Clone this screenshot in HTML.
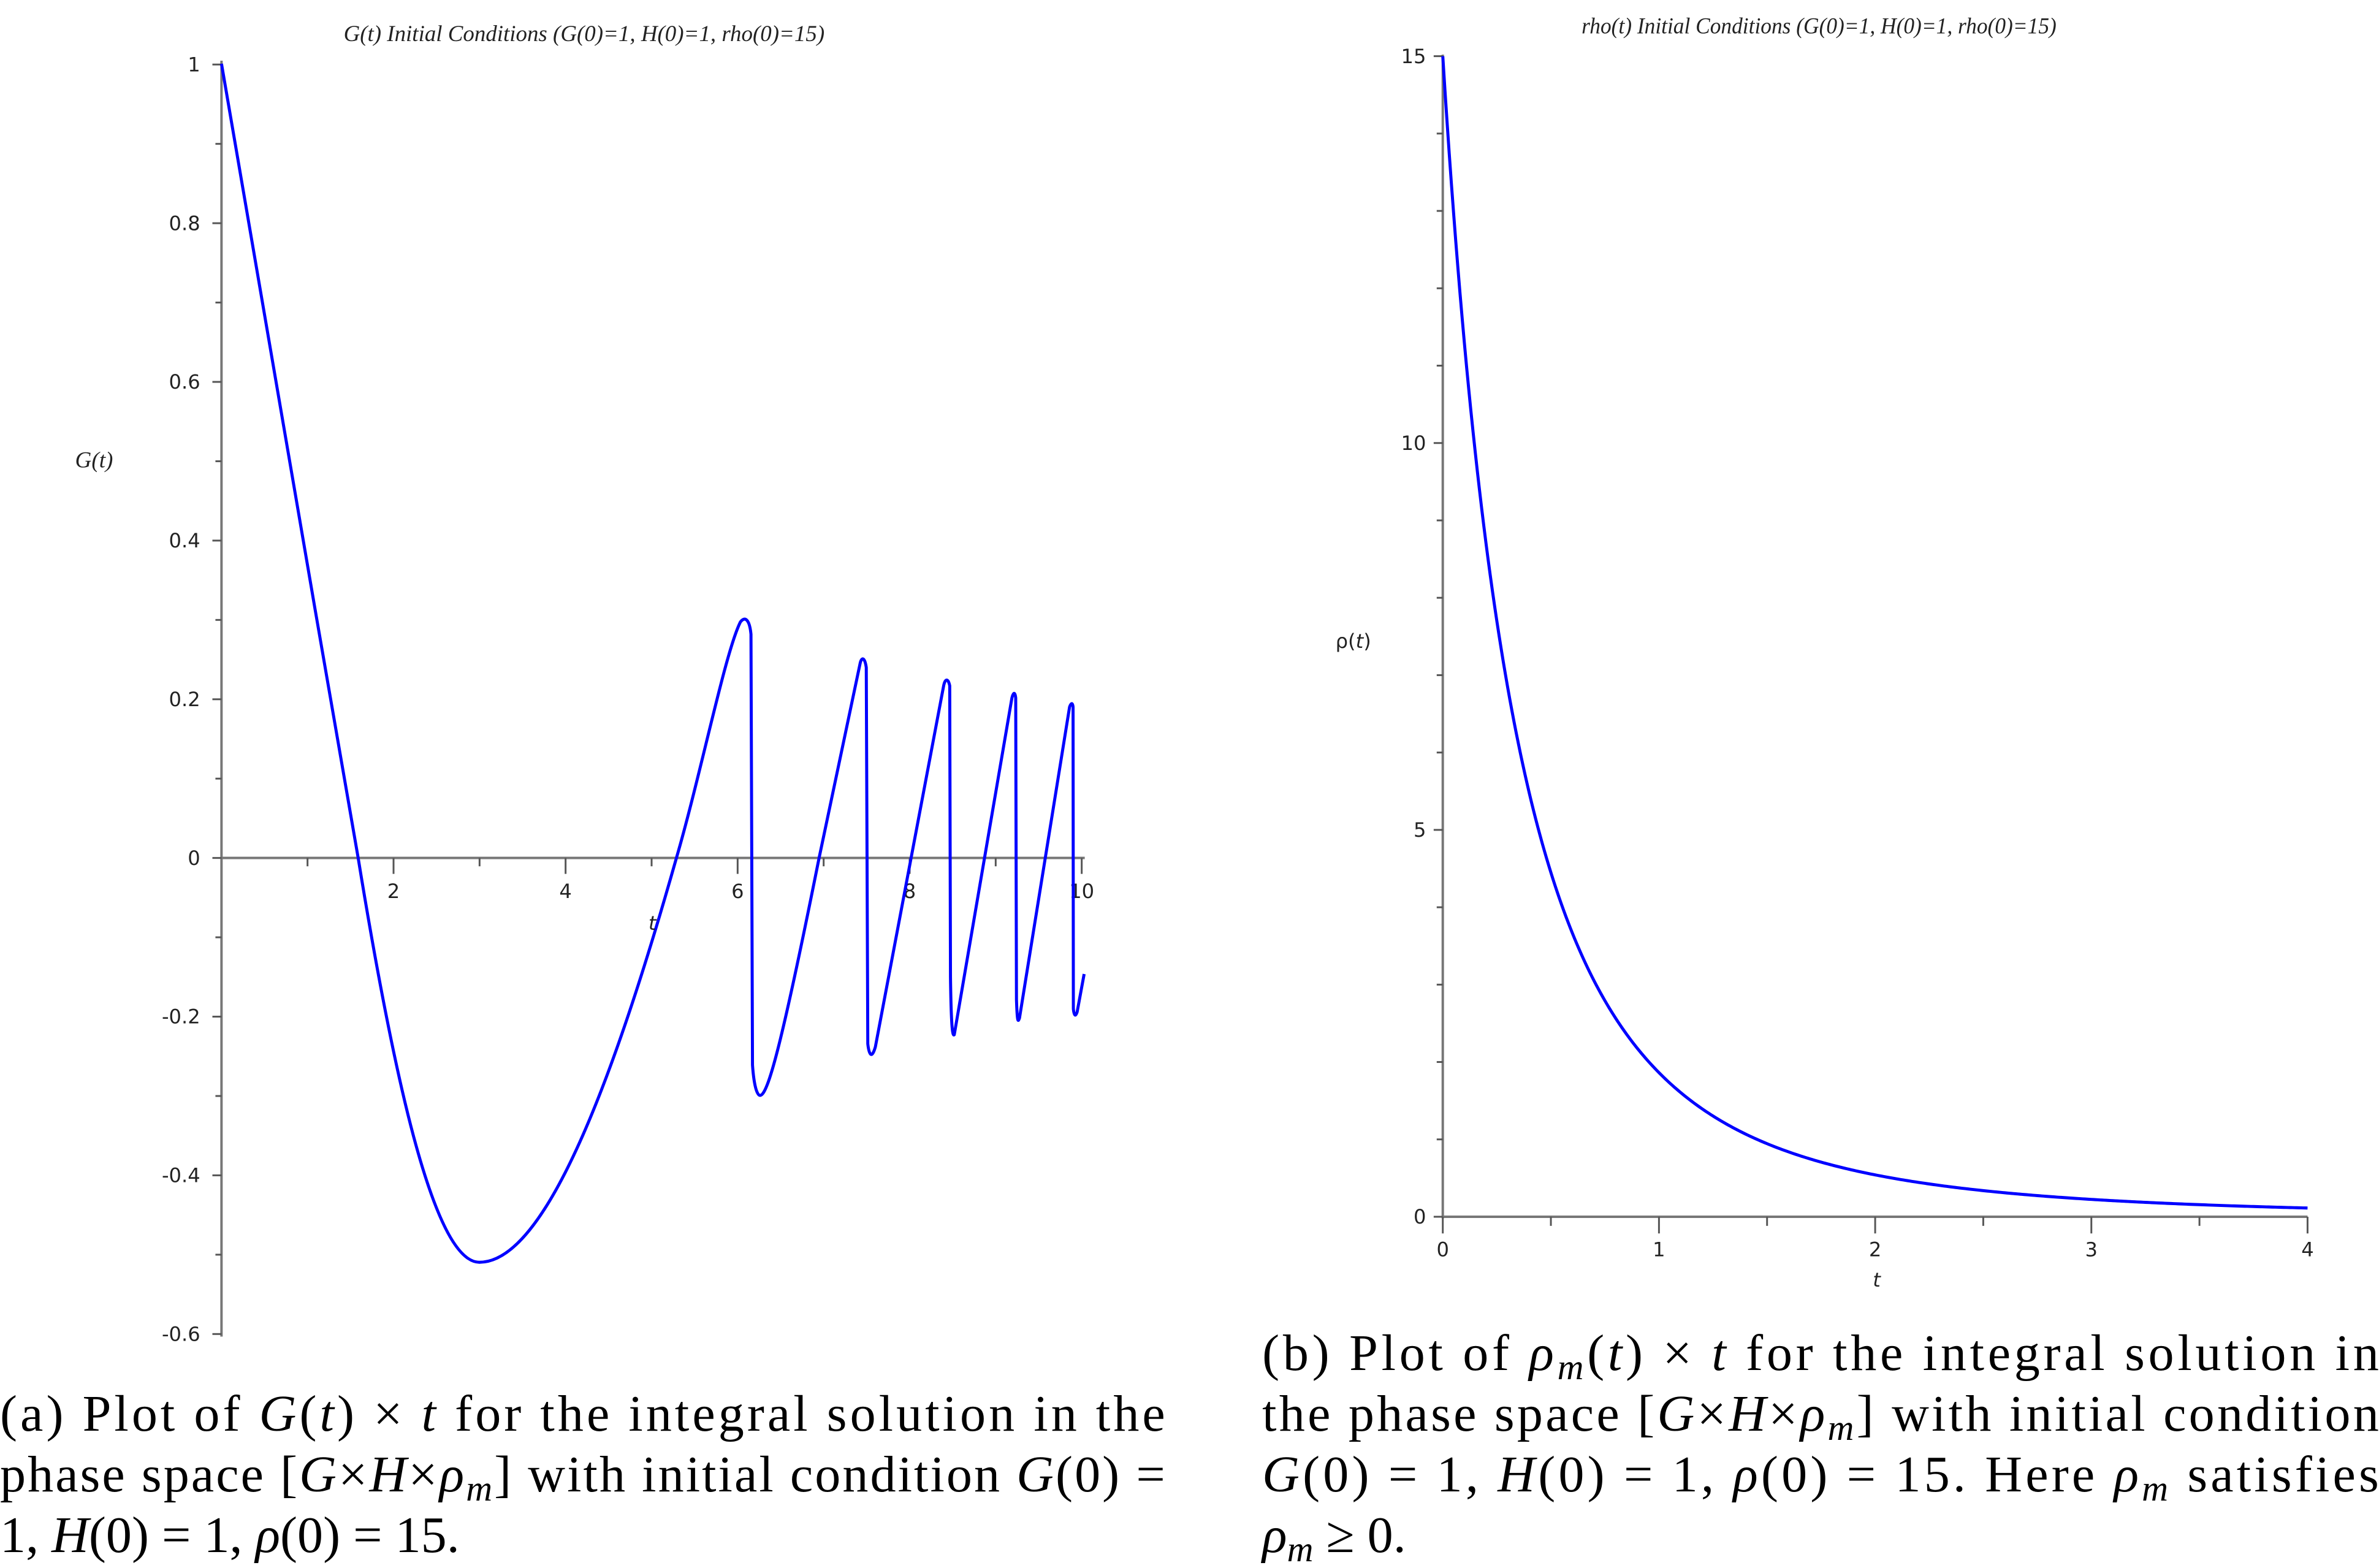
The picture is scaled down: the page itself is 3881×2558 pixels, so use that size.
<!DOCTYPE html>
<html><head><meta charset="utf-8"><style>
html,body{margin:0;padding:0;background:#fff;}
svg{display:block;}
.tk{font-family:"DejaVu Sans","Liberation Sans",sans-serif;font-size:13px;fill:#222;}
.ti{font-family:"Liberation Serif",serif;font-style:italic;font-size:15px;fill:#222;}
.cap{font-family:"Liberation Serif",serif;font-size:34px;fill:#000;}
.it{font-style:italic;}
</style></head><body>
<svg width="3881" height="2558" viewBox="0 0 1568.1 1033.5" xmlns="http://www.w3.org/2000/svg">
<rect x="0" y="0" width="1568.1" height="1033.5" fill="#fff"/>
<text class="ti" x="385" y="27" text-anchor="middle" textLength="317" lengthAdjust="spacingAndGlyphs">G(t) Initial Conditions (G(0)=1, H(0)=1, rho(0)=15)</text>
<text class="ti" x="62" y="308" text-anchor="middle" font-size="15">G(t)</text>
<g stroke="#777" stroke-width="1.6" fill="none">
<line x1="146" y1="40" x2="146" y2="881"/>
<line x1="146" y1="565.5" x2="715" y2="565.5"/>
</g>
<g id="lyt" stroke="#555" stroke-width="1.2"></g>
<g id="lyl"></g>
<path id="gpath" fill="none" stroke="#0000ff" stroke-width="2" stroke-linejoin="round"
d="M146,42 C175,205 205,390 236,565 C258,700 285,832 316,832 C360,832 405,710 446,565 C462,510 478,430 488,410 C491,406 494,408 495,418 L496,702 C497,716 499,722 501,722 C506,722 515,690 540,565 L567,437 C568,433 570,433 571,440 L572,688 C573,697 575,697 577,690 L622,452 C623,447 625,447 626,452 L626.5,644 C627,680 628,683 629,682 L667,460 C668,456 669,456 669.5,460 L670,659 C670.5,674 671,674 672,671 L705,466 C706,463 707,463 707.3,466 L707.5,665 C708,670 709,670 710,667 L714.6,642"/>
<text class="ti" x="1199" y="22" text-anchor="middle" textLength="313" lengthAdjust="spacingAndGlyphs">rho(t) Initial Conditions (G(0)=1, H(0)=1, rho(0)=15)</text>
<text class="tk" x="892" y="427" text-anchor="middle" font-size="15">ρ(<tspan font-style="italic">t</tspan>)</text>
<g stroke="#777" stroke-width="1.6" fill="none">
<line x1="951" y1="36" x2="951" y2="803"/>
<line x1="951" y1="802" x2="1521" y2="802"/>
</g>
<g id="r" stroke="#555" stroke-width="1.2"></g>
<g id="rl"></g>
<path id="rpath" fill="none" stroke="#0000ff" stroke-width="2"/>
<text class="tk" x="1237" y="848" text-anchor="middle" font-style="italic">t</text>
<text class="tk" x="430" y="613" text-anchor="middle" font-style="italic">t</text>
<text class="cap" x="0" y="943" textLength="768" lengthAdjust="spacing">(a) Plot of <tspan class="it">G</tspan>(<tspan class="it">t</tspan>) × <tspan class="it">t</tspan> for the integral solution in the</text>
<text class="cap" x="0" y="983" textLength="768" lengthAdjust="spacing">phase space [<tspan class="it">G</tspan>×<tspan class="it">H</tspan>×<tspan class="it">ρ</tspan><tspan class="it" font-size="24" dy="6">m</tspan><tspan dy="-6">]</tspan> with initial condition <tspan class="it">G</tspan>(0) =</text>
<text class="cap" x="0" y="1023">1, <tspan class="it">H</tspan>(0) = 1, <tspan class="it">ρ</tspan>(0) = 15.</text>
<text class="cap" x="832" y="903" textLength="736" lengthAdjust="spacing">(b) Plot of <tspan class="it">ρ</tspan><tspan class="it" font-size="24" dy="6">m</tspan><tspan dy="-6">(</tspan><tspan class="it">t</tspan>) × <tspan class="it">t</tspan> for the integral solution in</text>
<text class="cap" x="832" y="943" textLength="736" lengthAdjust="spacing">the phase space [<tspan class="it">G</tspan>×<tspan class="it">H</tspan>×<tspan class="it">ρ</tspan><tspan class="it" font-size="24" dy="6">m</tspan><tspan dy="-6">]</tspan> with initial condition</text>
<text class="cap" x="832" y="983" textLength="736" lengthAdjust="spacing"><tspan class="it">G</tspan>(0) = 1, <tspan class="it">H</tspan>(0) = 1, <tspan class="it">ρ</tspan>(0) = 15. Here <tspan class="it">ρ</tspan><tspan class="it" font-size="24" dy="6">m</tspan><tspan dy="-6"> satisfies</tspan></text>
<text class="cap" x="832" y="1023"><tspan class="it">ρ</tspan><tspan class="it" font-size="24" dy="6">m</tspan><tspan dy="-6"> ≥ 0.</tspan></text>
</svg>
<script>
var NS="http://www.w3.org/2000/svg";
function el(p,tag,a,txt){var e=document.createElementNS(NS,tag);for(var k in a)e.setAttribute(k,a[k]);if(txt!==undefined)e.textContent=txt;p.appendChild(e);return e;}
var lyt=document.getElementById('lyt'),lyl=document.getElementById('lyl');
for(var i=-6;i<=10;i++){var y=565.5-i*52.3;var maj=(i%2===0);
 el(lyt,'line',{x1:maj?140:142,y1:y,x2:146,y2:y});
 if(maj){var v=i/10;var s=(v===1?'1':v===0?'0':v.toFixed(1));
  el(lyl,'text',{'class':'tk',x:132,y:y+4.5,'text-anchor':'end'},s);}}
for(var t=1;t<=10;t++){var x=146+t*56.7;var maj=(t%2===0);
 el(lyt,'line',{x1:x,y1:565.5,x2:x,y2:maj?576:571});
 if(maj)el(lyl,'text',{'class':'tk',x:x,y:592,'text-anchor':'middle'},String(t));}
var r=document.getElementById('r'),rl=document.getElementById('rl');
for(var i=0;i<=15;i++){var y=802-i*51;var maj=(i%5===0);
 el(r,'line',{x1:maj?945:947,y1:y,x2:951,y2:y});
 if(maj)el(rl,'text',{'class':'tk',x:940,y:y+4.5,'text-anchor':'end'},String(i));}
for(var k=0;k<=8;k++){var x=951+k*71.25;var maj=(k%2===0);
 el(r,'line',{x1:x,y1:802,x2:x,y2:maj?813:808});
 if(maj)el(rl,'text',{'class':'tk',x:x,y:828,'text-anchor':'middle'},String(k/2));}
var d='';for(var j=0;j<=400;j++){var t=j/100;var v=15/Math.pow(1+0.96*t,3.1);
 d+=(j?'L':'M')+(951+t*142.5).toFixed(2)+','+(802-v*51).toFixed(2);}
document.getElementById('rpath').setAttribute('d',d);
</script>
</body></html>
